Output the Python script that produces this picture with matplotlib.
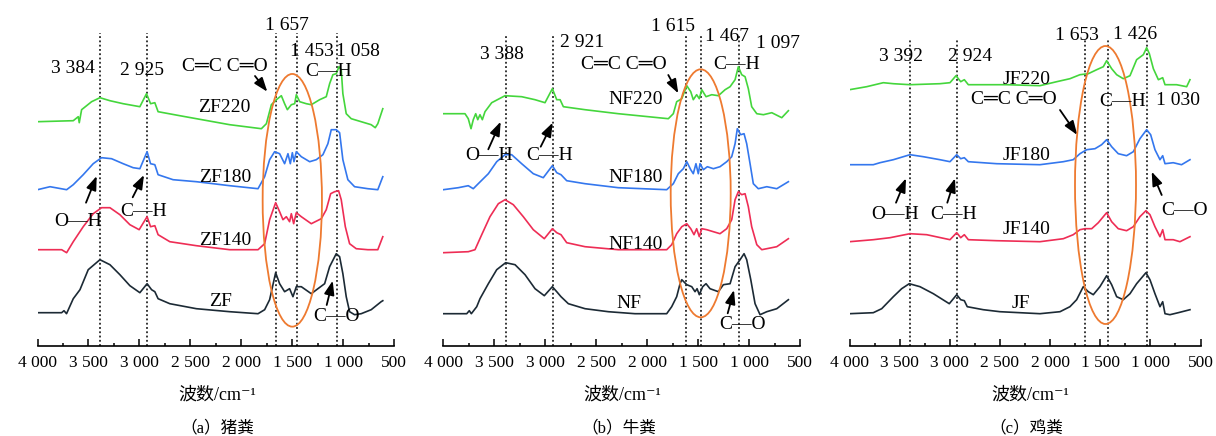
import matplotlib.pyplot as plt
from matplotlib.patches import Ellipse, FancyArrowPatch
from matplotlib.ticker import FixedLocator, MultipleLocator, FixedFormatter

# ---- spectra: wavenumber (cm-1) / stacked absorbance (a.u.) ----
# (a) pig manure
ZF_w = [4000, 3763, 3740, 3715, 3649, 3583, 3502, 3387, 3289, 3191, 3093, 2995, 2924, 2880, 2848,
        2816, 2701, 2440, 2113, 1835, 1770, 1721, 1662, 1623, 1574, 1525, 1492, 1459, 1410, 1312,
        1247, 1181, 1132, 1067, 1034, 1002, 969, 936, 887, 822, 724, 626, 610]
ZF_a = [33, 33, 35, 32, 47, 56, 76, 86, 81, 71, 60, 53, 62, 56, 54,
        47, 42, 37, 34, 32, 36, 46, 73, 62, 54, 57, 49, 59, 59, 52,
        57, 62, 79, 92, 89, 72, 49, 34, 31, 32, 36, 44, 45]
ZF140_w = [4000, 3763, 3714, 3649, 3551, 3453, 3371, 3289, 3191, 3093, 3002, 2924, 2890, 2848, 2816,
           2701, 2440, 2113, 1835, 1770, 1721, 1662, 1623, 1590, 1557, 1525, 1508, 1485, 1459, 1410,
           1312, 1214, 1165, 1122, 1083, 1044, 1018, 978, 936, 871, 757, 659, 610]
ZF140_a = [96, 96, 93, 104, 119, 132, 138, 138, 131, 121, 116, 129, 119, 120, 111,
           104, 100, 96, 96, 102, 126, 143, 134, 126, 129, 124, 132, 122, 133, 129,
           122, 127, 136, 152, 154, 155, 146, 119, 102, 97, 96, 96, 109]
ZF180_w = [4000, 3877, 3714, 3649, 3551, 3453, 3371, 3273, 3159, 3061, 2995, 2924, 2890, 2848, 2816,
           2669, 2440, 2113, 1835, 1770, 1721, 1672, 1623, 1574, 1541, 1518, 1498, 1482, 1459, 1410,
           1328, 1263, 1198, 1149, 1116, 1067, 1034, 1002, 953, 887, 757, 659, 610]
ZF180_a = [156, 159, 156, 161, 171, 182, 188, 187, 182, 178, 177, 194, 182, 181, 171,
           166, 164, 160, 157, 169, 186, 194, 192, 182, 192, 182, 193, 184, 194, 189,
           184, 186, 191, 202, 216, 216, 213, 186, 166, 159, 157, 156, 169]
ZF220_w = [4000, 3649, 3600, 3590, 3567, 3469, 3387, 3289, 3159, 2995, 2930, 2890, 2848, 2816, 2603,
           2276, 2113, 1802, 1753, 1704, 1655, 1606, 1574, 1547, 1508, 1475, 1459, 1426, 1361, 1312,
           1230, 1165, 1132, 1100, 1067, 1041, 1018, 1002, 969, 920, 822, 724, 684, 659, 610]
ZF220_a = [224, 225, 229, 223, 236, 244, 248, 245, 242, 239, 252, 242, 243, 234, 230,
           224, 221, 217, 222, 241, 246, 250, 242, 236, 241, 242, 251, 244, 242, 241,
           246, 249, 262, 271, 272, 279, 276, 252, 232, 227, 224, 221, 218, 222, 237]

# (b) cattle manure
NF_w = [4000, 3770, 3745, 3725, 3672, 3640, 3558, 3476, 3388, 3296, 3198, 3100, 3009, 2930, 2887,
        2845, 2773, 2609, 2381, 2119, 1808, 1759, 1710, 1677, 1660, 1611, 1562, 1530, 1510, 1488,
        1455, 1422, 1383, 1301, 1252, 1186, 1137, 1088, 1049, 1023, 983, 941, 892, 826, 728, 614]
NF_a = [32, 32, 35, 32, 39, 47, 62, 76, 83, 81, 71, 57, 50, 59, 54,
        49, 42, 37, 34, 32, 32, 39, 49, 62, 66, 61, 59, 54, 57, 51,
        59, 62, 57, 54, 61, 62, 79, 86, 92, 86, 66, 42, 31, 34, 37, 46]
NF140_w = [4000, 3755, 3689, 3623, 3542, 3460, 3394, 3313, 3215, 3117, 3009, 2930, 2887, 2845, 2789,
           2609, 2283, 1808, 1759, 1710, 1660, 1611, 1572, 1540, 1514, 1488, 1464, 1415, 1350, 1285,
           1219, 1170, 1137, 1105, 1072, 1039, 1007, 974, 924, 875, 826, 728, 614]
NF140_a = [93, 94, 96, 111, 129, 142, 146, 141, 129, 116, 107, 117, 113, 111, 103,
           99, 96, 96, 101, 112, 119, 122, 117, 111, 117, 109, 117, 116, 114, 112,
           117, 126, 146, 154, 151, 152, 139, 119, 101, 96, 97, 99, 107]
NF180_w = [4000, 3853, 3755, 3706, 3657, 3558, 3476, 3394, 3329, 3231, 3117, 3019, 2930, 2887, 2845,
           2789, 2609, 2283, 1808, 1743, 1694, 1645, 1611, 1572, 1547, 1521, 1498, 1481, 1448, 1409,
           1350, 1285, 1219, 1170, 1137, 1115, 1082, 1049, 1023, 990, 958, 909, 826, 728, 614]
NF180_a = [156, 158, 160, 157, 162, 172, 184, 191, 191, 182, 172, 168, 180, 173, 171,
           165, 162, 158, 156, 162, 172, 177, 184, 176, 172, 182, 172, 182, 176, 179,
           177, 179, 184, 189, 202, 217, 211, 212, 202, 182, 162, 157, 159, 157, 164]
NF220_w = [4000, 3787, 3755, 3728, 3706, 3682, 3662, 3640, 3617, 3591, 3525, 3394, 3231, 3100, 3002,
           2930, 2887, 2854, 2822, 2609, 2283, 1792, 1743, 1710, 1660, 1611, 1572, 1547, 1514, 1488,
           1464, 1422, 1366, 1301, 1235, 1186, 1137, 1105, 1072, 1039, 1007, 974, 924, 859, 777, 679, 614]
NF220_a = [232, 232, 227, 217, 226, 232, 226, 231, 226, 234, 243, 250, 249, 246, 243,
           257, 246, 246, 239, 236, 232, 227, 232, 244, 247, 260, 254, 246, 251, 247,
           256, 249, 251, 250, 256, 259, 266, 279, 271, 269, 257, 239, 232, 231, 233, 228, 235]

# (c) chicken manure
JF_w = [4000, 3763, 3679, 3563, 3480, 3404, 3297, 3164, 3005, 2931, 2891, 2855, 2826, 2666, 2500,
        2101, 1901, 1802, 1735, 1669, 1619, 1569, 1503, 1436, 1386, 1336, 1270, 1203, 1137, 1044,
        1004, 954, 904, 877, 854, 805, 722, 605]
JF_a = [32, 33, 37, 49, 57, 62, 59, 52, 42, 51, 46, 45, 39, 36, 34,
        32, 34, 39, 46, 59, 54, 51, 59, 70, 61, 49, 46, 52, 62, 73,
        66, 52, 39, 44, 32, 31, 33, 36]
JF140_w = [4000, 3763, 3596, 3397, 3230, 2998, 2931, 2891, 2855, 2815, 2532, 2101, 1868, 1769, 1702,
           1652, 1585, 1519, 1436, 1386, 1320, 1237, 1170, 1104, 1044, 1004, 954, 904, 877, 854,
           772, 705, 605]
JF140_a = [104, 106, 108, 112, 111, 106, 113, 108, 111, 106, 105, 104, 107, 111, 116,
           117, 117, 123, 133, 124, 117, 115, 119, 129, 135, 131, 119, 109, 116, 106,
           106, 104, 109]
JF180_w = [4000, 3763, 3696, 3563, 3397, 3264, 3098, 2998, 2931, 2891, 2855, 2815, 2532, 2101, 1868,
           1769, 1702, 1635, 1552, 1486, 1436, 1386, 1320, 1237, 1170, 1104, 1037, 997, 954, 904,
           877, 854, 772, 689, 605]
JF180_a = [181, 181, 183, 186, 191, 189, 186, 184, 191, 187, 188, 184, 182, 181, 184,
           186, 192, 196, 197, 201, 206, 199, 192, 190, 194, 207, 216, 211, 196, 186,
           190, 182, 183, 181, 186]
JF220_w = [4000, 3829, 3663, 3563, 3397, 3098, 2998, 2938, 2891, 2855, 2815, 2433, 2101, 1934, 1802,
           1702, 1619, 1535, 1469, 1436, 1386, 1336, 1270, 1203, 1137, 1070, 1037, 1010, 970, 920,
           877, 854, 739, 638, 605]
JF220_a = [256, 259, 263, 262, 261, 262, 263, 270, 264, 266, 261, 261, 260, 264, 267,
           271, 272, 276, 279, 285, 277, 271, 267, 270, 286, 291, 298, 292, 277, 266,
           268, 261, 261, 259, 266]

PEAKS_A = [3384, 2925, 1657, 1453, 1058]
PEAKS_B = [3388, 2921, 1615, 1467, 1097]
PEAKS_C = [3392, 2924, 1653, 1426, 1030]

SAMPLES_A = ['ZF', 'ZF140', 'ZF180', 'ZF220']
SAMPLES_B = ['NF', 'NF140', 'NF180', 'NF220']
SAMPLES_C = ['JF', 'JF140', 'JF180', 'JF220']

CAPTIONS = ['（a）猪粪', '（b）牛粪', '（c）鸡粪']
XLABEL = '波数/cm⁻¹'
XTICKS = [4000, 3500, 3000, 2500, 2000, 1500, 1000, 500]
XTICK_LABELS = ['4 000', '3 500', '3 000', '2 500', '2 000', '1 500', '1 000', '500']

COLORS = ['#1c2a35', '#ee2d55', '#3477ee', '#44d63c']   # raw, 140, 180, 220

plt.rcParams['font.family'] = ['Liberation Serif', 'Noto Sans CJK SC', 'DejaVu Sans']

W, H = 1216, 436
AXIS_Y = 345.7   # pixel row of the x axis

fig = plt.figure(figsize=(W / 100, H / 100), dpi=100)


def put(s, x, y, size=14, **kw):
    # x, y = visual centre of the text in pixel units of the picture
    fig.text(x / W, 1 - (y + 0.33 * size * 100 / 72) / H, s,
             ha='center', va='baseline', fontsize=size, **kw)


def arrow(x0, y0, x1, y1):
    fig.add_artist(FancyArrowPatch((x0 / W, 1 - y0 / H), (x1 / W, 1 - y1 / H),
                                   transform=fig.transFigure,
                                   arrowstyle='-|>,head_length=0.6,head_width=0.22',
                                   mutation_scale=14, color='k', lw=1.3,
                                   shrinkA=0, shrinkB=0))


def fmt_peak(v):
    return '{} {:03d}'.format(v // 1000, v % 1000)


panels = [
    dict(x0=37.5, x1=394.0,
         spectra=[(ZF_w, ZF_a), (ZF140_w, ZF140_a), (ZF180_w, ZF180_a), (ZF220_w, ZF220_a)],
         samples=SAMPLES_A, peaks=PEAKS_A, vtop=33,
         peak_pos=[(72.5, 66.7), (142.5, 68.3), (286.7, 23.3), (311.7, 50), (358, 50)],
         sample_pos=[(221, 299.3), (225.5, 238.3), (225.5, 176), (224.5, 106)],
         notes=[('C═C C═O', 225, 65), ('C—H', 329, 70), ('O—H', 78, 219.3),
                ('C—H', 144, 209.3), ('C—O', 336.3, 314.3)],
         arrows=[(86, 202.7, 96.7, 176), (132.7, 197.3, 144, 175),
                 (255, 76, 267.3, 91.7), (326.7, 305, 332.7, 280.7)],
         ellipse=(292.3, 200.3, 59.3, 252.7),
         xlab=(217.5, 394), cap=(217.5, 426.5)),
    dict(x0=443.3, x1=800.0,
         spectra=[(NF_w, NF_a), (NF140_w, NF140_a), (NF180_w, NF180_a), (NF220_w, NF220_a)],
         samples=SAMPLES_B, peaks=PEAKS_B, vtop=35,
         peak_pos=[(501.7, 52.7), (582, 40.7), (673.3, 25), (726.7, 34.3), (777.5, 41.7)],
         sample_pos=[(629, 301.7), (635.8, 242.3), (635.8, 176), (635.8, 97.7)],
         notes=[('C═C C═O', 624, 62.7), ('C—H', 736.7, 62.3), ('O—H', 489, 154),
                ('C—H', 550, 154), ('C—O', 742.7, 322.7)],
         arrows=[(488.3, 149.3, 500.7, 121.7), (540.7, 146.7, 552.7, 122.7),
                 (668.3, 75, 678.3, 93.3), (727.7, 313.3, 734, 290)],
         ellipse=(700.7, 193.3, 60, 248),
         xlab=(622.5, 394), cap=(619, 426.5)),
    dict(x0=849.5, x1=1200.5,
         spectra=[(JF_w, JF_a), (JF140_w, JF140_a), (JF180_w, JF180_a), (JF220_w, JF220_a)],
         samples=SAMPLES_C, peaks=PEAKS_C, vtop=38,
         peak_pos=[(901, 55), (970.5, 55), (1076.7, 33.3), (1135.3, 32.3), (1178, 98.3)],
         sample_pos=[(1021, 301.7), (1026.7, 227.3), (1026.7, 154), (1027, 77.3)],
         notes=[('C═C C═O', 1014, 97.7), ('C—H', 1123, 99.3), ('O—H', 894.7, 212.3),
                ('C—H', 953.7, 212.3), ('C—O', 1185, 209)],
         arrows=[(896, 202.7, 906, 178.3), (947.3, 202.7, 955, 178.3),
                 (1060, 110, 1077.3, 135), (1161.7, 195, 1151.7, 171.7)],
         ellipse=(1105.5, 185, 61, 278),
         xlab=(1030, 394), cap=(1026.7, 426.5)),
]

for p, cap in zip(panels, CAPTIONS):
    ax = fig.add_axes([p['x0'] / W, 1 - AXIS_Y / H, (p['x1'] - p['x0']) / W, AXIS_Y / H])
    ax.set_xlim(4000, 500)
    ax.set_ylim(0, AXIS_Y)
    ax.patch.set_alpha(0)

    ax.vlines(p['peaks'], 0, AXIS_Y - p['vtop'], colors='k', linestyles=(0, (1.2, 1.6)), lw=1.1)
    for (w, a), c in zip(p['spectra'], COLORS):
        ax.plot(w, a, color=c, lw=1.2)

    for s in ['left', 'right', 'top']:
        ax.spines[s].set_visible(False)
    ax.spines['bottom'].set_linewidth(1.2)
    ax.set_yticks([])
    ax.xaxis.set_major_locator(FixedLocator(XTICKS))
    ax.xaxis.set_major_formatter(FixedFormatter(XTICK_LABELS))
    ax.xaxis.set_minor_locator(MultipleLocator(250))
    ax.tick_params(axis='x', which='major', direction='in', length=5, width=1.1,
                   labelsize=12.5, pad=6.5)
    ax.tick_params(axis='x', which='minor', direction='in', length=2.5, width=1.1)

    for v, (x, y) in zip(p['peaks'], p['peak_pos']):
        put(fmt_peak(v), x, y)
    for name, (x, y) in zip(p['samples'], p['sample_pos']):
        put(name, x, y)
    for s, x, y in p['notes']:
        put(s, x, y)
    for a in p['arrows']:
        arrow(*a)

    cx, cy, ew, eh = p['ellipse']
    fig.add_artist(Ellipse((cx / W, 1 - cy / H), ew / W, eh / H, transform=fig.transFigure,
                           fill=False, edgecolor='#ee7a30', lw=1.3))

    put(XLABEL, p['xlab'][0], p['xlab'][1], size=13)
    put(cap, p['cap'][0], p['cap'][1], size=12)

fig.savefig('out.png', dpi=100)
